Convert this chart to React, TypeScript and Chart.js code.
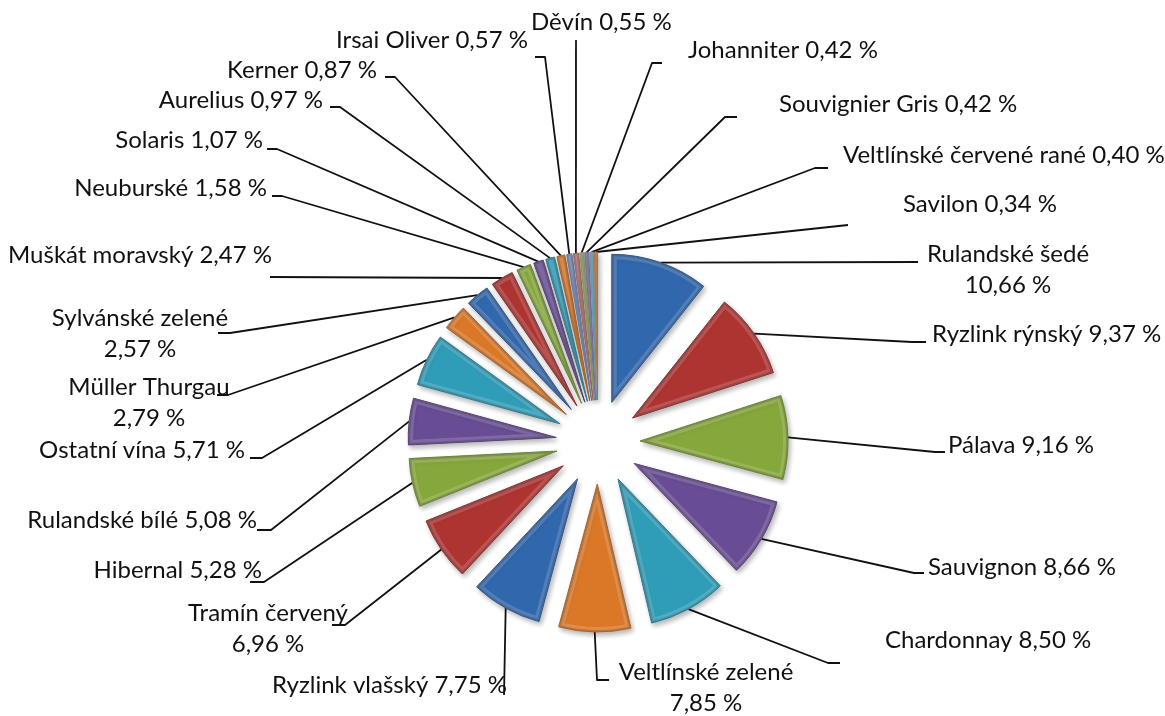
import { useEffect, useRef } from "react";
import { Chart, registerables } from "chart.js";

Chart.register(...registerables);

// ---- data ----
const varieties = [
  "Rulandské šedé", "Ryzlink rýnský", "Pálava", "Sauvignon", "Chardonnay",
  "Veltlínské zelené", "Ryzlink vlašský", "Tramín červený", "Hibernal", "Rulandské bílé",
  "Ostatní vína", "Müller Thurgau", "Sylvánské zelené", "Muškát moravský", "Neuburské",
  "Solaris", "Aurelius", "Kerner", "Irsai Oliver", "Děvín",
  "Johanniter", "Souvignier Gris", "Veltlínské červené rané", "Savilon",
];
const shares = [
  10.66, 9.37, 9.16, 8.66, 8.5,
  7.85, 7.75, 6.96, 5.28, 5.08,
  5.71, 2.79, 2.57, 2.47, 1.58,
  1.07, 0.97, 0.87, 0.57, 0.55,
  0.42, 0.42, 0.4, 0.34,
];
// labels that wrap value onto second line
const wrapValue = [
  true, false, false, false, false,
  true, false, true, false, false,
  false, true, true, false, false,
  false, false, false, false, false,
  false, false, false, false,
];

// ---- styles ----
const sliceColors = [
  "#3167AD", "#AE3431", "#86A73B", "#684C94", "#2F9CB8", "#DA7828",
  "#3167AD", "#AE3431", "#86A73B", "#684C94", "#2F9CB8", "#DA7828",
  "#3167AD", "#AE3431", "#86A73B", "#684C94", "#2F9CB8", "#DA7828",
  "#7C97C6", "#C67E7C", "#A4BD75", "#9A88B8", "#7BBDD3", "#D98C50",
];
const sliceBorders = [
  "#245089", "#8A2624", "#6A852C", "#513975", "#237C93", "#B25F1C",
  "#245089", "#8A2624", "#6A852C", "#513975", "#237C93", "#B25F1C",
  "#245089", "#8A2624", "#6A852C", "#513975", "#237C93", "#B25F1C",
  "#5F7AA8", "#A86260", "#86A058", "#7C6A9A", "#5E9FB5", "#B86F36",
];

// ---- layout (label placement) ----
// [x, y, align]: l = left edge, r = right edge, c = centered
const labelAnchors: [number, number, string][] = [
  [1008, 254, "c"], [932, 334, "l"], [948, 445, "l"], [928, 567, "l"], [885, 640, "l"],
  [706, 672, "c"], [507, 685, "r"], [268, 613, "c"], [262, 570, "r"], [257, 520, "r"],
  [245, 450, "r"], [149, 387, "c"], [140, 318, "c"], [272, 255, "r"], [267, 188, "r"],
  [263, 140, "r"], [323, 100, "r"], [377, 70, "r"], [528, 40, "r"], [531, 22, "l"],
  [688, 50, "l"], [779, 104, "l"], [843, 155, "l"], [903, 204, "l"],
];
const lineGap = 31;
const leaderElbows: [number, number][] = [
  [918, 262], [912, 342], [935, 452], [914, 573], [828, 663],
  [597, 680], [504, 695], [345, 625], [264, 582], [271, 530],
  [262, 458], [228, 395], [230, 333], [270, 277], [282, 196],
  [277, 149], [340, 107], [395, 77], [545, 57], [576, 40],
  [652, 63], [725, 117], [815, 168], [848, 225],
];
const leaderStubs: ([number, number] | null)[] = [
  null, [926, 342], [945, 452], [924, 573], [840, 663],
  [609, 680], null, [332, 625], [250, 582], [257, 530],
  [250, 458], [217, 395], [218, 333], null, [272, 196],
  [267, 149], [330, 107], [385, 77], [535, 57], null,
  [662, 63], [737, 117], [828, 168], null,
];
const EXPLODE = 42;
const FONT = "24px Lato";

const fmt = (v: number) => v.toFixed(2).replace(".", ",") + " %";

const explodePlugin = {
  id: "explodeLabels",
  beforeDatasetsDraw(chart: any) {
    const meta = chart.getDatasetMeta(0);
    const ca = chart.chartArea;
    const cx = (ca.left + ca.right) / 2;
    const cy = (ca.top + ca.bottom) / 2;
    const ctx = chart.ctx;
    meta.data.forEach((el: any) => {
      const mid = (el.startAngle + el.endAngle) / 2;
      el.x = cx + Math.cos(mid) * EXPLODE;
      el.y = cy + Math.sin(mid) * EXPLODE;
    });
    // leader lines
    ctx.save();
    ctx.strokeStyle = "#111";
    ctx.lineWidth = 1.8;
    ctx.lineJoin = "round";
    meta.data.forEach((el: any, i: number) => {
      const mid = (el.startAngle + el.endAngle) / 2;
      const sx = el.x + Math.cos(mid) * el.outerRadius;
      const sy = el.y + Math.sin(mid) * el.outerRadius;
      const e = leaderElbows[i];
      ctx.beginPath();
      ctx.moveTo(sx, sy);
      ctx.lineTo(e[0], e[1]);
      const s = leaderStubs[i];
      if (s) ctx.lineTo(s[0], s[1]);
      ctx.stroke();
    });
    ctx.restore();
    ctx.shadowColor = "rgba(0,0,0,0.28)";
    ctx.shadowBlur = 5;
    ctx.shadowOffsetX = 2;
    ctx.shadowOffsetY = 3;
  },
  afterDatasetsDraw(chart: any) {
    const ctx = chart.ctx;
    ctx.shadowColor = "rgba(0,0,0,0)";
    ctx.shadowBlur = 0;
    ctx.shadowOffsetX = 0;
    ctx.shadowOffsetY = 0;
    // soft bevel on each slice
    const meta = chart.getDatasetMeta(0);
    meta.data.forEach((el: any) => {
      ctx.save();
      ctx.beginPath();
      ctx.moveTo(el.x, el.y);
      ctx.arc(el.x, el.y, el.outerRadius, el.startAngle, el.endAngle);
      ctx.closePath();
      ctx.clip();
      ctx.lineJoin = "round";
      ctx.strokeStyle = "rgba(255,255,255,0.16)";
      ctx.lineWidth = 10;
      ctx.stroke();
      ctx.strokeStyle = "rgba(0,0,0,0.16)";
      ctx.lineWidth = 4;
      ctx.stroke();
      ctx.restore();
    });
    ctx.save();
    ctx.font = FONT;
    ctx.fillStyle = "#111";
    ctx.textBaseline = "middle";
    varieties.forEach((name, i) => {
      const [x, y, a] = labelAnchors[i];
      ctx.textAlign = a === "l" ? "left" : a === "r" ? "right" : "center";
      if (wrapValue[i]) {
        ctx.fillText(name, x, y);
        ctx.fillText(fmt(shares[i]), x, y + lineGap);
      } else {
        ctx.fillText(name + " " + fmt(shares[i]), x, y);
      }
    });
    ctx.restore();
  },
};

export default function App() {
  const ref = useRef<HTMLCanvasElement | null>(null);
  useEffect(() => {
    if (!ref.current) return;
    const chart = new Chart(ref.current, {
      type: "pie",
      data: {
        labels: varieties,
        datasets: [
          {
            data: shares,
            backgroundColor: sliceColors,
            borderColor: sliceBorders,
            borderWidth: 1,
            radius: 148,
          } as any,
        ],
      },
      options: {
        animation: false,
        responsive: true,
        maintainAspectRatio: false,
        layout: { padding: { left: 31, right: 0, top: 168, bottom: 0 } },
        plugins: {
          legend: { display: false },
          tooltip: { enabled: false },
        },
      },
      plugins: [explodePlugin],
    });
    return () => chart.destroy();
  }, []);
  return (
    <div style={{ position: "fixed", left: 0, top: 0, width: 1165, height: 716, background: "#fff" }}>
      <canvas ref={ref} />
    </div>
  );
}
